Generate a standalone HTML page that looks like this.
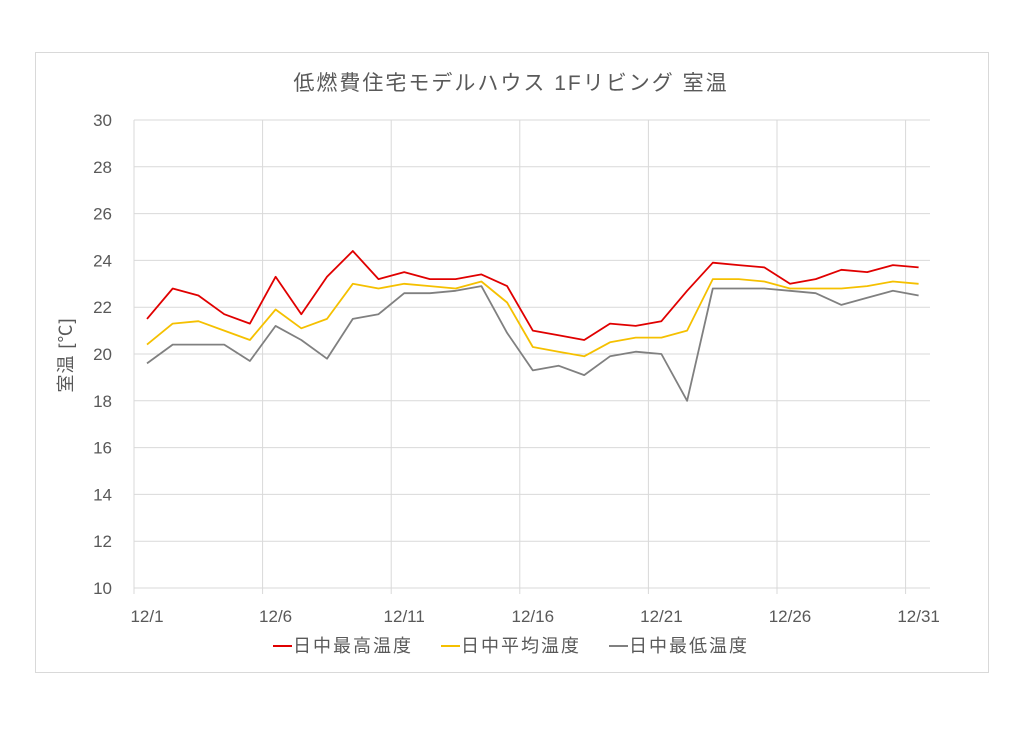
<!DOCTYPE html>
<html><head><meta charset="utf-8"><style>
body{margin:0;background:#fff;width:1024px;height:724px;overflow:hidden}
svg text{font-family:"Liberation Sans","Noto Sans CJK JP",sans-serif;fill:#595959}
</style></head><body>
<svg id="s" width="1024" height="724" xmlns="http://www.w3.org/2000/svg">
<rect x="35.5" y="52.5" width="953" height="620" fill="#fff" stroke="#d9d9d9"/>
<text x="511" y="90" font-size="21" letter-spacing="2" text-anchor="middle">低燃費住宅モデルハウス 1Fリビング 室温</text>
<text transform="translate(72,355) rotate(-90)" font-size="18" letter-spacing="1" text-anchor="middle">室温 [℃]</text>
<g id="g"></g>
<g font-size="18" letter-spacing="2">
<line x1="273" y1="646" x2="292" y2="646" stroke="#e00000" stroke-width="2"/><text x="293" y="652">日中最高温度</text>
<line x1="441" y1="646" x2="460" y2="646" stroke="#f5c000" stroke-width="2"/><text x="461" y="652">日中平均温度</text>
<line x1="609" y1="646" x2="628" y2="646" stroke="#808080" stroke-width="2"/><text x="629" y="652">日中最低温度</text>
</g>
</svg>
<script>
var g=document.getElementById('g'),h='';
function Y(v){return 588-(v-10)*23.4}
for(var v=10;v<=30;v+=2){h+='<line x1="134" x2="930" y1="'+Y(v)+'" y2="'+Y(v)+'" stroke="#d9d9d9" stroke-width="1"/>';
h+='<text x="112" y="'+(Y(v)+6)+'" font-size="17" text-anchor="end">'+v+'</text>';}
var lab=['12/1','12/6','12/11','12/16','12/21','12/26','12/31'];
for(var k=0;k<7;k++){var x=134+128.6*k;h+='<line x1="'+x+'" x2="'+x+'" y1="120" y2="594" stroke="#d9d9d9"/>';
h+='<text x="'+(147+128.6*k)+'" y="622" font-size="17" text-anchor="middle">'+lab[k]+'</text>';}
var S=[[[21.5,22.8,22.5,21.7,21.3,23.3,21.7,23.3,24.4,23.2,23.5,23.2,23.2,23.4,22.9,21.0,20.8,20.6,21.3,21.2,21.4,22.7,23.9,23.8,23.7,23.0,23.2,23.6,23.5,23.8,23.7],'#e00000'],
[[20.4,21.3,21.4,21.0,20.6,21.9,21.1,21.5,23.0,22.8,23.0,22.9,22.8,23.1,22.2,20.3,20.1,19.9,20.5,20.7,20.7,21.0,23.2,23.2,23.1,22.8,22.8,22.8,22.9,23.1,23.0],'#f5c000'],
[[19.6,20.4,20.4,20.4,19.7,21.2,20.6,19.8,21.5,21.7,22.6,22.6,22.7,22.9,20.9,19.3,19.5,19.1,19.9,20.1,20.0,18.0,22.8,22.8,22.8,22.7,22.6,22.1,22.4,22.7,22.5],'#808080']];
for(var i=2;i>=0;i--){var p=S[i][0].map(function(v,j){return (147+25.72*j).toFixed(1)+','+Y(v).toFixed(1)}).join(' ');
h+='<polyline points="'+p+'" fill="none" stroke="'+S[i][1]+'" stroke-width="1.8" stroke-linejoin="round"/>';}
g.innerHTML=h;
</script>
</body></html>
